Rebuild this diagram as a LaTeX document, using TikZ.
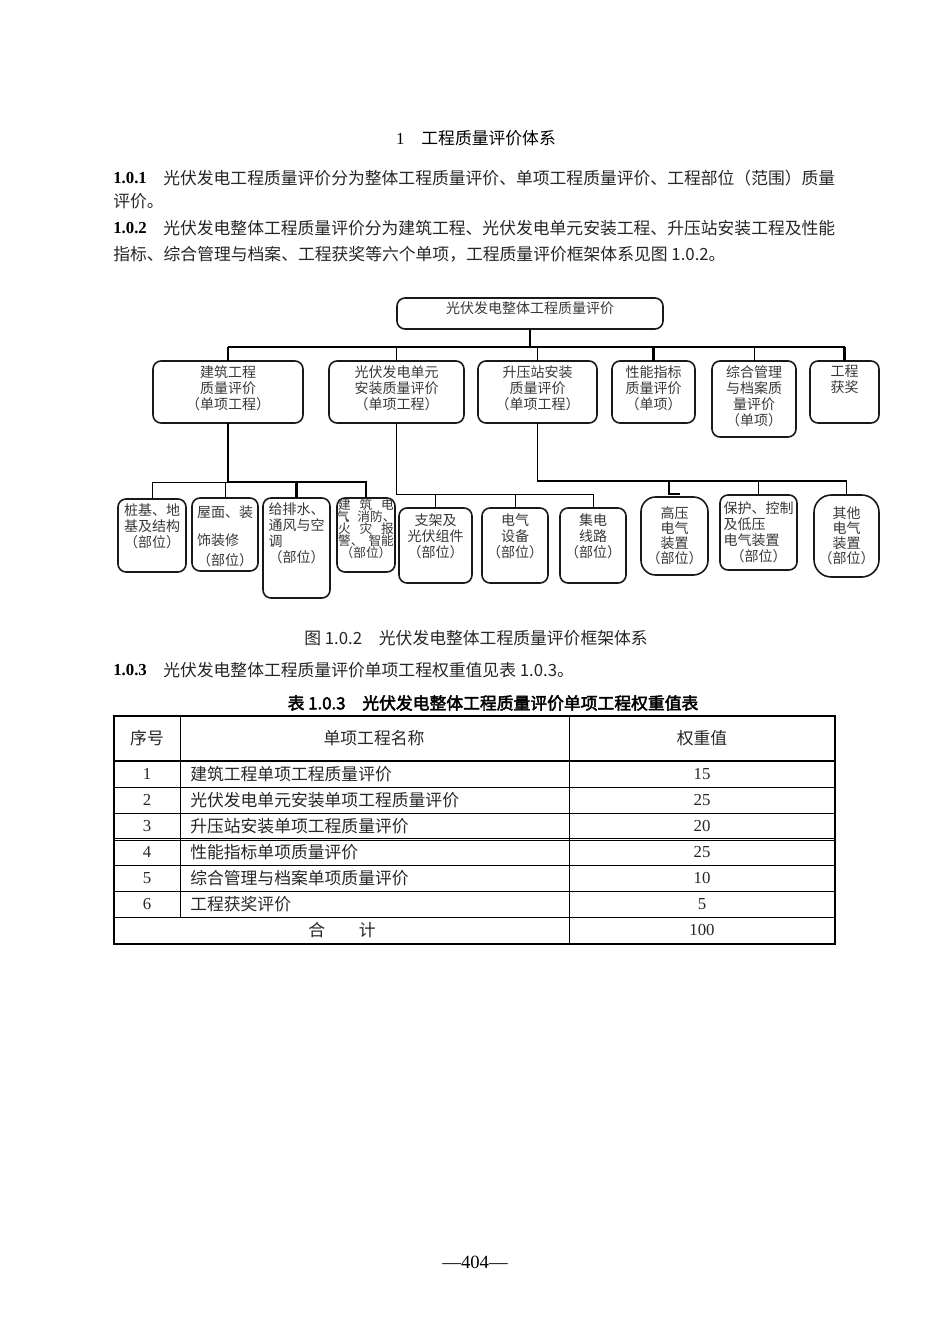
\documentclass[tikz,border=0pt]{standalone}
\usepackage{fontspec}
\usepackage{tikz}
\newfontfamily\cjk{Noto Sans CJK SC}[AutoFakeBold=2.5]
\newfontfamily\numf{Liberation Serif}

\tikzset{
  ubox/.style={draw=black!90, rounded corners=6pt, line width=1.2pt, inner sep=0pt, outer sep=0pt},
  utext/.style={font=\cjk\fontsize{10.5}{12}\selectfont, text=black!78, align=center, inner sep=0pt},
  body/.style={font=\cjk\fontsize{12.6}{15}\selectfont, text=black!85, inner sep=0pt},
  lbl/.style={font=\numf\bfseries\fontsize{12.6}{15}\selectfont, inner sep=0pt},
  num/.style={font=\numf\fontsize{12.6}{15}\selectfont, text=black!85, inner sep=0pt},
  thk/.style={line width=2.2pt},
  med/.style={line width=1.4pt},
  thn/.style={line width=0.75pt},
  tout/.style={line width=1.6pt},
  tin/.style={line width=0.6pt},
}

% box of the chart: [options] name, x1, y1, x2, y2 (px), gap above text (px), text
\newcommand{\ubx}[8][]{%
  \node[ubox, #1, anchor=north west, minimum width={(#5-#3)*0.75pt},
        minimum height={(#6-#4)*0.75pt}] (#2) at (#3,#4) {};
  \node[utext, #1, anchor=north] (#2-t) at ([yshift={-(#7)*0.75pt}]#2.north) {#8};
}

\begin{document}
\begin{tikzpicture}[x=0.75pt,y=-0.75pt]
  \fill[white] (0,0) rectangle (950,1344);
  \useasboundingbox (0,0) rectangle (950,1344);

  % heading and first clauses
  \node[body, text=black] (sec) at (476,138) {\numf 1\quad\cjk 工程质量评价体系};
  \node[lbl, anchor=west] (p1n) at (113,178) {1.0.1};
  \node[body, anchor=west] (p1a) at (163,178) {光伏发电工程质量评价分为整体工程质量评价、单项工程质量评价、工程部位（范围）质量};
  \node[body, anchor=west] (p1b) at (113,201) {评价。};
  \node[lbl, anchor=west] (p2n) at (113,228) {1.0.2};
  \node[body, anchor=west] (p2a) at (163,228) {光伏发电整体工程质量评价分为建筑工程、光伏发电单元安装工程、升压站安装工程及性能};
  \node[body, anchor=west] (p2b) at (113,254) {指标、综合管理与档案、工程获奖等六个单项，工程质量评价框架体系见图 1.0.2。};

  % chart: top and single items
  \ubx{top}{397}{298}{663}{329}{3}{光伏发电整体工程质量评价}
  \ubx{bA}{153}{361}{303}{423}{4}{建筑工程\\质量评价\\（单项工程）}
  \ubx{bB}{329}{361}{464}{423}{4}{光伏发电单元\\安装质量评价\\（单项工程）}
  \ubx{bC}{478}{361}{597}{423}{4}{升压站安装\\质量评价\\（单项工程）}
  \ubx{bD}{612}{361}{695}{423}{4}{性能指标\\质量评价\\（单项）}
  \ubx{bE}{712}{361}{796}{437}{4}{综合管理\\与档案质\\量评价\\（单项）}
  \ubx{bF}{810}{361}{879}{423}{4}{工程\\获奖}

  % chart: parts
  \ubx{b1}{118}{499}{186}{572}{4}{桩基、地\\基及结构\\（部位）}
  \ubx{b2}{192}{498}{258}{571}{7}{屋面、装\\[9pt]\makebox[4em][l]{饰装修}\\[3pt]（部位）}
  \ubx{b3}{263}{498}{330}{598}{4}{给排水、\\通风与空\\\makebox[4em][l]{调}\\（部位）}
  \ubx[font=\cjk\fontsize{9.5}{9}\selectfont]{b4}{337}{498}{395}{572}{1}{%
    \makebox[4.4em][s]{建\hfill 筑\hfill 电}\\气\kern-.35em、消防、\\
    \makebox[4.4em][s]{火\hfill 灾\hfill 报}\\\makebox[4.4em][s]{警、\hfill 智能}\\（部位）}
  \ubx{b5}{399}{508}{472}{583}{5}{支架及\\光伏组件\\（部位）}
  \ubx{b6}{482}{508}{548}{583}{5}{电气\\设备\\（部位）}
  \ubx{b7}{560}{508}{626}{583}{5}{集电\\线路\\（部位）}
  \ubx[rounded corners=11pt, font=\cjk\fontsize{10.5}{11.3}\selectfont]{b8}{641}{497}{708}{575}{9}{高压\\电气\\装置\\（部位）}
  \ubx{b9}{720}{495}{797}{570}{6}{保护、控制\\\makebox[5em][l]{及低压}\\\makebox[5em][l]{电气装置}\\（部位）}
  \ubx[rounded corners=13pt, font=\cjk\fontsize{10.5}{11.3}\selectfont]{b10}{814}{495}{879}{577}{11}{其他\\电气\\装置\\（部位）}

  % connectors, first level
  \coordinate (bus1) at (0,347);
  \draw[thk] (top.south) -- (top.south |- bus1);
  \draw[thk] (bA.north |- bus1) -- (bF.north |- bus1);
  \draw[thk] (bA.north |- bus1) -- (bA.north);
  \draw[thn] (bB.north |- bus1) -- (bB.north);
  \draw[thn] (bC.north |- bus1) -- (bC.north);
  \draw[thk] (bD.north |- bus1) -- (bD.north);
  \draw[thn] (bE.north |- bus1) -- (bE.north);
  \draw[thk] (bF.north |- bus1) -- (bF.north);

  % connectors, building parts
  \coordinate (bus2) at (0,482);
  \draw[thk] (bA.south) -- (bA.south |- bus2) -- (b4.north |- bus2) -- (b4.north);
  \draw[thk] (b3.north |- bus2) -- (b3.north);
  \draw[thn] (bA.south |- bus2) -- (b1.north |- bus2) -- (b1.north);
  \draw[thn] (b2.north |- bus2) -- (b2.north);

  % connectors, pv unit parts
  \coordinate (bus3) at (0,494);
  \draw[thn] (bB.south) -- (bB.south |- bus3) -- (b7.north |- bus3) -- (b7.north);
  \draw[thn] (b5.north |- bus3) -- (b5.north);
  \draw[thn] (b6.north |- bus3) -- (b6.north);

  % connectors, booster station parts
  \coordinate (bus4) at (0,481);
  \coordinate (j1) at (669,494);
  \coordinate (j2) at (680,494);
  \draw[med] (bC.south) -- (bC.south |- bus4) -- (b10.north |- bus4) -- (b10.north);
  \draw[med] (b9.north |- bus4) -- (b9.north);
  \draw[med] (j1 |- bus4) -- (j1) -- (j2);

  \node[body] (cap) at (476,638) {图 1.0.2\quad 光伏发电整体工程质量评价框架体系};
  \node[lbl, anchor=west] (p3n) at (113,670) {1.0.3};
  \node[body, anchor=west] (p3a) at (163,670) {光伏发电整体工程质量评价单项工程权重值见表 1.0.3。};
  \node[body, text=black, font=\cjk\bfseries\fontsize{12.6}{15}\selectfont] (ttl) at (493,703) {表 1.0.3\quad 光伏发电整体工程质量评价单项工程权重值表};

  % table
  \draw[tout] (114,716) rectangle (835,944);
  \draw[line width=1.1pt] (114,761) -- (835,761);
  \foreach \yy in {787,813,838,840.5,865,891,917}
    \draw[tin] (114,\yy) -- (835,\yy);
  \draw[tin] (180,716) -- (180,917);
  \draw[tin] (569,716) -- (569,944);

  \node[body] (h1) at (147,738) {序号};
  \node[body] (h2) at (374,738) {单项工程名称};
  \node[body] (h3) at (702,738) {权重值};
  \foreach \i/\nm/\wt in {1/建筑工程单项工程质量评价/15, 2/光伏发电单元安装单项工程质量评价/25,
      3/升压站安装单项工程质量评价/20, 4/性能指标单项质量评价/25,
      5/综合管理与档案单项质量评价/10, 6/工程获奖评价/5} {
    \node[num] (n\i) at (147,{748+26*\i}) {\i};
    \node[body, anchor=west] (t\i) at (190,{748+26*\i}) {\nm};
    \node[num] (w\i) at (702,{748+26*\i}) {\wt};
  }
  \node[body] (sum) at (342,930) {合\hspace{2em}计};
  \node[num] (tot) at (702,930) {100};

  \node[num, font=\numf\fontsize{14}{16}\selectfont, text=black] (pg) at (475,1262) {\textemdash404\textemdash};
\end{tikzpicture}
\end{document}
